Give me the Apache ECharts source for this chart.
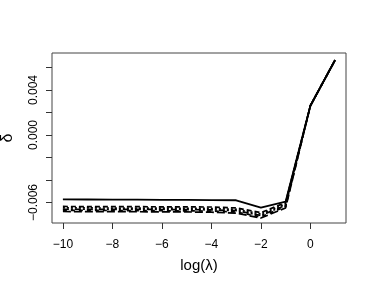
<!DOCTYPE html>
<html>
<head>
<meta charset="utf-8">
<script src="https://cdn.jsdelivr.net/npm/echarts@6/dist/echarts.min.js"></script>
<style>
  html, body { margin: 0; padding: 0; background: #fff; }
  #chart { width: 374px; height: 291px; }
</style>
</head>
<body>
<div id="chart"></div>
<script>
// log(lambda) grid
var logLambda = [-10, -9, -8, -7, -6, -5, -4, -3, -2, -1, 0, 1];

// solid path
var solid = [-0.00572, -0.00573, -0.00574, -0.00575, -0.00576, -0.00577, -0.00578, -0.00580, -0.00646, -0.00592, 0.0026, 0.00667];

// dashed paths
var dash1 = [-0.00635, -0.00636, -0.00636, -0.00637, -0.00638, -0.00639, -0.00640, -0.00648, -0.00690, -0.00600, 0.0026, 0.00667];
var dash2 = [-0.00648, -0.00648, -0.00649, -0.00650, -0.00650, -0.00651, -0.00653, -0.00660, -0.00702, -0.00612, 0.0026, 0.00667];
var dash3 = [-0.00660, -0.00660, -0.00661, -0.00661, -0.00662, -0.00663, -0.00665, -0.00672, -0.00715, -0.00624, 0.0026, 0.00667];
var dash4 = [-0.00670, -0.00670, -0.00671, -0.00672, -0.00673, -0.00674, -0.00676, -0.00684, -0.00727, -0.00636, 0.0026, 0.00667];
var dash5 = [-0.00680, -0.00681, -0.00681, -0.00682, -0.00683, -0.00684, -0.00686, -0.00694, -0.00738, -0.00648, 0.0026, 0.00667];

var xTicks = [-10, -8, -6, -4, -2, 0];
var yTicks = [-0.006, -0.004, -0.002, 0, 0.002, 0.004, 0.006];
var yLabels = [-0.006, 0, 0.004];

function pairs(v) { return logLambda.map(function (x, i) { return [x, v[i]]; }); }
function line(v, type) {
  return {
    type: 'line', data: pairs(v), showSymbol: false, silent: true,
    lineStyle: { color: '#000', width: type === 'solid' ? 1.8 : 1.7, type: type },
    z: type === 'solid' ? 3 : 2
  };
}
function minus(s) { return s.replace('-', '\u2212'); }

var chart = echarts.init(document.getElementById('chart'));
chart.setOption({
  animation: false,
  backgroundColor: '#fff',
  grid: { left: 52, right: 28, top: 53, bottom: 68, show: true, borderColor: '#444', borderWidth: 1,
    containLabel: false, outerBoundsMode: 'none' },
  xAxis: {
    type: 'value', min: -10.44, max: 1.44,
    name: 'log(\u03bb)', nameLocation: 'middle', nameGap: 35,
    nameTextStyle: { fontFamily: 'Liberation Sans', fontSize: 15, color: '#000' },
    axisLine: { show: false, onZero: false },
    splitLine: { show: false },
    axisTick: { show: true, inside: false, length: 6, customValues: xTicks, lineStyle: { color: '#333' } },
    axisLabel: { customValues: xTicks, margin: 16, fontFamily: 'Liberation Sans', fontSize: 12, color: '#000',
      formatter: function (v) { return minus(String(v)); } }
  },
  yAxis: {
    type: 'value', min: -0.00782, max: 0.00729,
    name: '\u03b4', nameLocation: 'middle', nameGap: 36, nameRotate: 90,
    nameTextStyle: { fontFamily: 'Liberation Sans', fontSize: 16, color: '#000' },
    axisLine: { show: false, onZero: false },
    splitLine: { show: false },
    axisTick: { show: true, inside: false, length: 6, customValues: yTicks, lineStyle: { color: '#333' } },
    axisLabel: { customValues: yLabels, rotate: 90, margin: 12, fontFamily: 'Liberation Sans', fontSize: 12, color: '#000',
      formatter: function (v) { return minus(v.toFixed(3)); } }
  },
  series: [
    line(dash1, [5, 3]),
    line(dash2, [2, 2]),
    line(dash3, [6, 2, 2, 2]),
    line(dash4, [4, 4]),
    line(dash5, [8, 3]),
    line(solid, 'solid')
  ]
});
</script>
</body>
</html>
